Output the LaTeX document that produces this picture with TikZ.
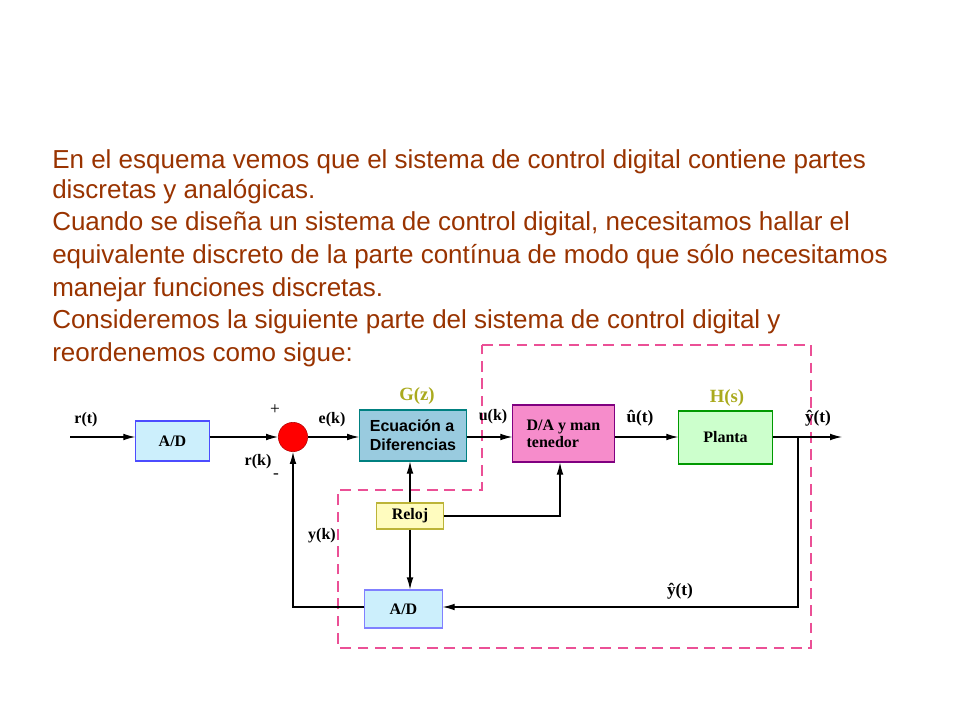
\documentclass[tikz,border=0pt]{standalone}
\usepackage{fontspec}
\setmainfont{Liberation Serif}
\newfontfamily\arialfont{Liberation Sans}
\usetikzlibrary{arrows.meta}
\definecolor{txtbrown}{RGB}{153,51,0}
\definecolor{olivelbl}{RGB}{170,170,30}
\definecolor{dashpink}{RGB}{235,80,150}
\tikzset{
  blk/.style={draw, line width=0.8pt, inner sep=1pt, minimum height=#1*0.75pt, font=\bfseries\fontsize{12}{13}\selectfont, align=left},
  lbl/.style={font=\bfseries\fontsize{12}{13}\selectfont, inner sep=1pt},
  para/.style={anchor=west, font=\arialfont\fontsize{19.5}{22}\selectfont, text=txtbrown, inner sep=0pt},
  sig/.style={-{Latex[length=9pt,width=5pt]}, line width=0.8pt}
}
\begin{document}
\begin{tikzpicture}[x=0.75pt,y=-0.75pt]
\useasboundingbox (0,0) rectangle (960,720);
% text lines
\node[para] (l1) at (52,162) {En el esquema vemos que el sistema de control digital contiene partes};
\node[para] (l2) at (52,192) {discretas y analógicas.};
\node[para] (l3) at (52,224) {Cuando se diseña un sistema de control digital, necesitamos hallar el};
\node[para] (l4) at (52,257) {equivalente discreto de la parte contínua de modo que sólo necesitamos};
\node[para] (l5) at (52,290) {manejar funciones discretas.};
\node[para] (l6) at (52,322) {Consideremos la siguiente parte del sistema de control digital y};
\node[para] (l7) at (52,355) {reordenemos como sigue:};
% dashed frame
\draw[dashpink, line width=1pt, dash pattern=on 8pt off 5pt] (482,345) -- (811,345) -- (811,648) -- (338,648) -- (338,490) -- (482,490) -- cycle;
% blocks
\node[blk=40, fill=cyan!20, draw=blue!70, minimum width=55pt] (ad1) at (172.5,441) {A/D};
\node[circle, fill=red, draw=red!70!black, minimum size=22pt, inner sep=0] (sum) at (293,437) {};
\node[blk=51, fill=cyan!45!teal!45, draw=teal, minimum width=80pt, font=\arialfont\bfseries\fontsize{12}{14}\selectfont] (ecu) at (413,435.5) {Ecuación a\\Diferencias};
\node[blk=57, fill=magenta!45, draw=violet, minimum width=76pt] (da) at (563.5,433.5) {D/A y man\\tenedor};
\node[blk=53, fill=green!20, draw=green!60!black, minimum width=70pt] (pla) at (725.5,437.5) {Planta};
\node[blk=26, fill=yellow!25, draw=yellow!70!black, minimum width=50pt] (rel) at (410,516) {Reloj};
\node[blk=38, fill=cyan!20, draw=blue!50, minimum width=58pt] (ad2) at (403.5,609) {A/D};
% coordinates
\coordinate (in) at (70,437);
\coordinate (out) at (842,437);
\coordinate (br) at (798,437);
\coordinate (brd) at (798,607);
\coordinate (fb) at (293,607);
\coordinate (clk) at (560,516);
% connectors
\draw[sig] (in) -- (ad1.west |- in);
\draw[sig] (ad1.east |- sum) -- (sum);
\draw[sig] (sum) -- (ecu.west |- sum);
\draw[sig] (ecu.east |- sum) -- (da.west |- sum);
\draw[sig] (da.east |- sum) -- (pla.west |- sum);
\draw[sig] (pla.east |- sum) -- (out);
\draw[sig] (br) -- (brd) -- (ad2.east |- brd);
\draw[sig] (ad2.west |- fb) -- (fb) -- (sum.south);
\draw[sig] (rel.north) -- (ecu.south -| rel);
\draw[sig] (rel.south) -- (ad2.north -| rel);
\draw[sig] (rel.east) -- (clk) -- (da.south -| clk);
% labels
\node[lbl] (rt) at (86,420) {r(t)};
\node[font=\fontsize{13}{13}\selectfont] (pl) at (275,410) {+};
\node[lbl] (rk) at (258,462) {r(k)};
\node[font=\fontsize{13}{13}\selectfont] (mi) at (276,476) {-};
\node[lbl] (ek) at (332,420) {e(k)};
\node[lbl] (uk) at (493,417) {u(k)};
\node[lbl, text=olivelbl, font=\bfseries\fontsize{14}{15}\selectfont] (gz) at (417,396) {G(z)};
\node[lbl, text=olivelbl, font=\bfseries\fontsize{14}{15}\selectfont] (hs) at (727,398) {H(s)};
\node[lbl, font=\bfseries\fontsize{13}{14}\selectfont] (ut) at (640,418) {û(t)};
\node[lbl, font=\bfseries\fontsize{13}{14}\selectfont] (yt) at (818,418) {ŷ(t)};
\node[lbl, font=\bfseries\fontsize{13}{14}\selectfont] (yt2) at (680,591) {ŷ(t)};
\node[lbl] (yk) at (322,536) {y(k)};
\end{tikzpicture}
\end{document}
